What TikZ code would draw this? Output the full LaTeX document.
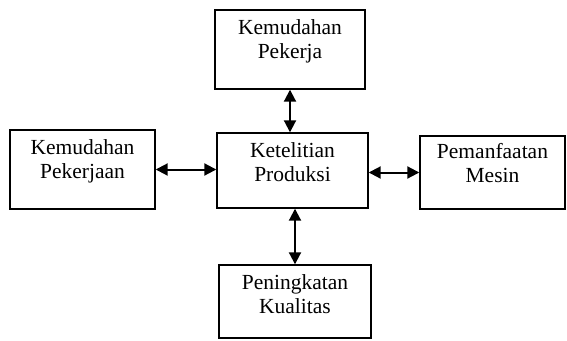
\documentclass[tikz,border=0pt]{standalone}
\usepackage{fontspec}
\setmainfont{Liberation Serif}
\usetikzlibrary{arrows.meta}
\tikzstyle{box}=[draw, line width=1.4pt, inner sep=0pt]
\tikzstyle{txt}=[align=center, inner sep=0pt, anchor=north, font=\fontsize{21.5}{24}\selectfont]
\tikzset{twoway/.style={line width=2pt,
      {Triangle[length=12pt,width=12pt]}-{Triangle[length=12pt,width=12pt]}}}

\begin{document}
\begin{tikzpicture}[x=1pt, y=-1pt]
    \useasboundingbox (0,0) rectangle (567,340);
    \node[box, minimum width=150pt, minimum height=79pt] (pekerja) at (290,49.5) {};
    \node[box, minimum width=151pt, minimum height=75pt] (produksi) at (292.5,170.5) {};
    \node[box, minimum width=145pt, minimum height=79pt] (pekerjaan) at (82.5,169.5) {};
    \node[box, minimum width=145pt, minimum height=73pt] (mesin) at (492.5,172.5) {};
    \node[box, minimum width=152pt, minimum height=73pt] (kualitas) at (295,301.5) {};
    \node[txt] (pekerja-t) at ([yshift=-10pt]pekerja.north) {Kemudahan\\Pekerja};
    \node[txt] (produksi-t) at ([yshift=-10pt]produksi.north) {Ketelitian\\Produksi};
    \node[txt] (pekerjaan-t) at ([yshift=-10pt]pekerjaan.north) {Kemudahan\\Pekerjaan};
    \node[txt] (mesin-t) at ([yshift=-8pt]mesin.north) {Pemanfaatan\\Mesin};
    \node[txt] (kualitas-t) at ([yshift=-10pt]kualitas.north) {Peningkatan\\Kualitas};
    \draw[twoway] (pekerja.south) to (pekerja.south |- produksi.north);
    \draw[twoway] (pekerjaan.east) to (pekerjaan.east -| produksi.west);
    \draw[twoway] (mesin.west -| produksi.east) to (mesin.west);
    \draw[twoway] (kualitas.north |- produksi.south) to (kualitas.north);
  \end{tikzpicture}
\end{document}
